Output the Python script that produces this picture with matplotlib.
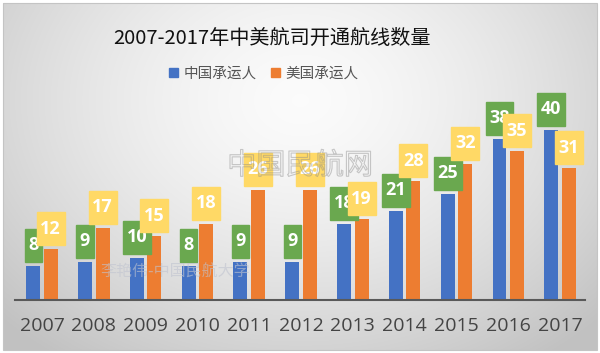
import numpy as np
import matplotlib.pyplot as plt
from matplotlib.patches import Patch, Rectangle
import matplotlib.patheffects as pe

plt.rcParams['font.family'] = ['Noto Sans CJK SC', 'DejaVu Sans']

years = ['2007', '2008', '2009', '2010', '2011', '2012', '2013', '2014', '2015', '2016', '2017']
china = [8, 9, 10, 8, 9, 9, 18, 21, 25, 38, 40]
usa = [12, 17, 15, 18, 26, 26, 19, 28, 32, 35, 31]
series_names = ['中国承运人', '美国承运人']

blue = '#4472C4'
orange = '#ED7D31'
green = '#6AA84F'
yellow = '#FFD966'

W, H = 600, 353
fig = plt.figure(figsize=(6, 3.53), dpi=100)

# background panel with soft radial gradient
bg = fig.add_axes([0, 0, 1, 1], zorder=-10)
yy, xx = np.mgrid[0:H, 0:W]
d = np.sqrt((xx - 300) ** 2 + ((yy - 100) * 1.3) ** 2)
g = np.clip(0.985 - 0.2 * (d / 380) ** 1.5, 0.76, 1)
img = np.dstack([g, g, g])
img[:3, :] = 1
img[350:, :] = 1
img[:, :3] = 1
img[:, 597:] = 1
bg.imshow(img, aspect='auto', extent=(0, W, H, 0))
bg.add_patch(Rectangle((3, 3), 594, 347, fill=False, ec='#c4c4c4', lw=0.8))
bg.set_xlim(0, W)
bg.set_ylim(H, 0)
bg.axis('off')

# main axes: baseline at y=300px, top at y=85px
ax = fig.add_axes([15 / W, 53 / H, 570 / W, 215 / H])
ax.patch.set_alpha(0)
ymax = 40 * 215 / 170
ax.set_ylim(0, ymax)
ax.set_xlim(-0.52, 10.48)

x = np.arange(len(years))
bw = 0.27
off = 0.17
ax.bar(x - off, china, bw, color=blue, zorder=2)
ax.bar(x + off, usa, bw, color=orange, zorder=2)

# value label boxes
px = 4.25  # pixels per unit
box_h = 33 / px
gap = 4 / px
for series, xs, col, z in [(china, x - off, green, 3), (usa, x + off, yellow, 5)]:
    for xi, v in zip(xs, series):
        bwid = 0.54 if v >= 10 else 0.33
        ax.add_patch(Rectangle((xi - bwid / 2, v + gap), bwid, box_h,
                               color=col, zorder=z, clip_on=False))
        ax.text(xi, v + gap + box_h / 2, str(v), ha='center', va='center',
                color='white', fontsize=13, fontweight='bold',
                family=['Open Sans', 'DejaVu Sans'], zorder=z + 0.5, clip_on=False)

for s in ['top', 'right', 'left']:
    ax.spines[s].set_visible(False)
ax.spines['bottom'].set_color('#595959')
ax.spines['bottom'].set_linewidth(1.5)
ax.set_yticks([])
ax.set_xticks(x)
ax.set_xticklabels(years, fontsize=14, color='#444444', family=['Open Sans', 'DejaVu Sans'])
ax.tick_params(axis='x', length=0, pad=12)

fig.text(272 / W, 1 - 38 / H, '2007-2017年中美航司开通航线数量', ha='center', va='center',
         fontsize=14.5, color='#111111')

handles = [Patch(color=blue), Patch(color=orange)]
leg = fig.legend(handles, series_names, loc='center', bbox_to_anchor=(264 / W, 1 - 74 / H),
                 ncol=2, frameon=False, fontsize=10.5, handlelength=0.6, handleheight=0.6,
                 handletextpad=0.4, columnspacing=1.0, labelcolor='#555555')

# watermarks (hollow, faint)
fig.text(300 / W, 1 - 166 / H, '中国民航网', ha='center', va='center', fontsize=21,
         color=(1, 1, 1, 0.0), zorder=20,
         path_effects=[pe.withStroke(linewidth=0.8, foreground=(0.55, 0.55, 0.55, 0.45))])
fig.text(175 / W, 1 - 272 / H, '李艳伟-中国民航大学', ha='center', va='center', fontsize=11.5,
         color='#c0c4d0', alpha=0.6, zorder=20)

fig.savefig('out.png', dpi=100)
